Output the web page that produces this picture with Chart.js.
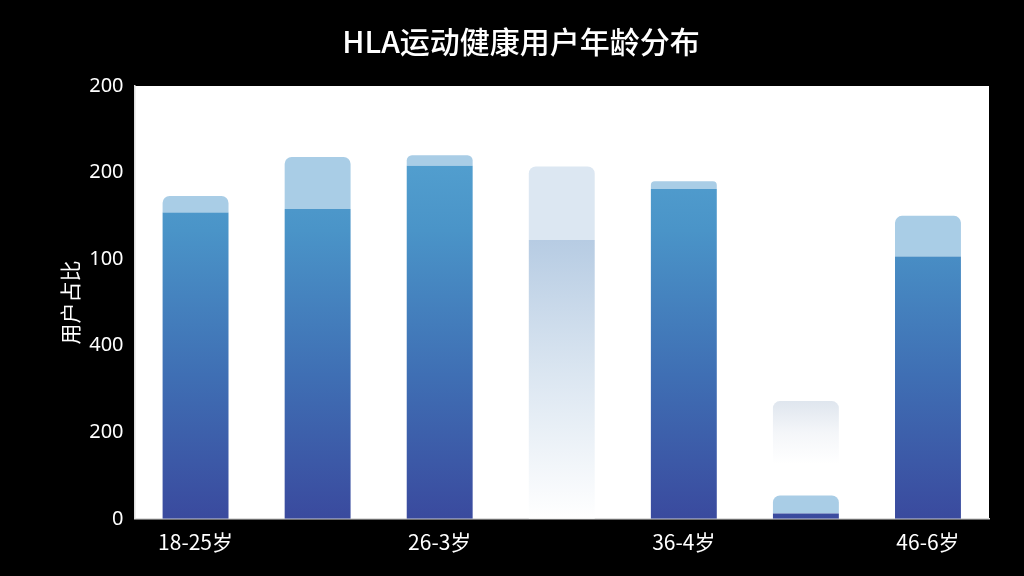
<!DOCTYPE html>
<html><head><meta charset="utf-8">
<script src="https://cdn.jsdelivr.net/npm/chart.js@4/dist/chart.umd.min.js"></script>
<style>html,body{margin:0;background:#000;}#wrap{width:1024px;height:576px;}</style>
</head><body><div id="wrap"><canvas id="c"></canvas></div>
<script>
const categories = ['18-25岁', '', '26-3岁', '', '36-4岁', '', '46-6岁'];
const baseValues = [354, 358, 408, 322, 381, 6, 303];
const topValues = [19, 60, 12, 85, 9, 21, 47];
const ghostValues = [0, 0, 0, 0, 0, 109, 0];
const tickLabels = ['0', '200', '400', '100', '200', '200'];
const FADED = 3;

function grad(ctx, stops, top, bottom) {
  const { chart } = ctx;
  const a = chart.chartArea;
  if (!a) return stops[0];
  const g = chart.ctx.createLinearGradient(0, top ?? a.top, 0, bottom ?? a.bottom);
  stops.forEach((s, i) => g.addColorStop(i / (stops.length - 1), s));
  return g;
}

const whiteArea = {
  id: 'whiteArea',
  beforeDraw(chart) {
    const { ctx, chartArea: a } = chart;
    ctx.save();
    ctx.fillStyle = '#fff';
    ctx.fillRect(a.left, a.top, a.right - a.left, a.bottom - a.top);
    ctx.restore();
  }
};

new Chart(document.getElementById('c'), {
  type: 'bar',
  data: {
    labels: categories,
    datasets: [
      { data: baseValues,
        backgroundColor: c => c.dataIndex === FADED
          ? grad(c, ['#c8d9ea', '#b4cae2', '#dbe6f1', '#ffffff'])
          : grad(c, ['#5aaad6', '#4a94c8', '#3f6fb4', '#3a4a9e']),
        barPercentage: 0.54, categoryPercentage: 1 },
      { data: topValues,
        backgroundColor: c => c.dataIndex === FADED ? '#dce7f2' : '#a9cde6',
        borderRadius: { topLeft: 7, topRight: 7 }, borderSkipped: false,
        barPercentage: 0.54, categoryPercentage: 1 },
      { data: ghostValues,
        backgroundColor: c => {
          const y = c.chart.scales.y;
          if (!y) return '#fff';
          return grad(c, ['#dfe6ee', '#f4f6f9', '#ffffff', '#ffffff'], y.getPixelForValue(136), y.getPixelForValue(27));
        },
        borderRadius: { topLeft: 7, topRight: 7 }, borderSkipped: false,
        barPercentage: 0.54, categoryPercentage: 1 },
    ]
  },
  options: {
    responsive: true, maintainAspectRatio: false, animation: false,
    layout: { padding: { top: 10, right: 35, bottom: 18, left: 53 } },
    plugins: {
      legend: { display: false }, tooltip: { enabled: false },
      title: { display: true, text: 'HLA运动健康用户年龄分布', color: '#fff',
               font: { size: 30, weight: '500', family: 'Noto Sans CJK SC' }, padding: { top: 14, bottom: 26 } },
    },
    scales: {
      x: { stacked: true, grid: { display: false, drawTicks: true },
           border: { color: '#ddd', width: 1.5 },
           ticks: { color: '#fff', font: { size: 21, family: 'Noto Sans CJK SC' }, autoSkip: false } },
      y: { stacked: true, min: 0, max: 500,
           grid: { display: false, drawTicks: true, tickColor: '#ddd' },
           border: { color: '#ddd', width: 1.5 },
           title: { display: true, text: '用户占比', color: '#fff', font: { size: 21, family: 'Noto Sans CJK SC' } },
           ticks: { stepSize: 100, color: '#fff', font: { size: 20, family: 'Noto Sans' },
                    callback: (v, i) => tickLabels[i] } },
    }
  },
  plugins: [whiteArea]
});
</script></body></html>
